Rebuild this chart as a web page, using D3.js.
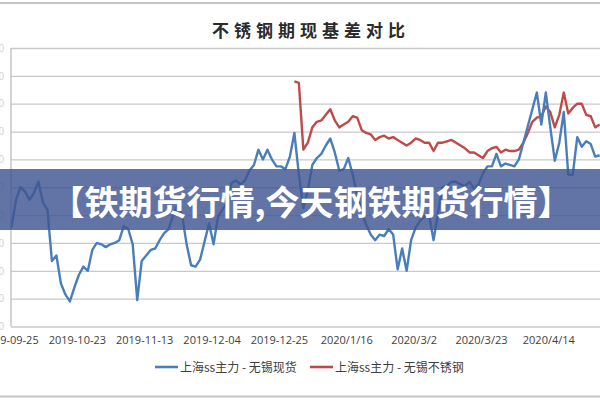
<!DOCTYPE html>
<html>
<head>
<meta charset="utf-8">
<script src="https://cdn.jsdelivr.net/npm/d3@7"></script>
<style>
  body { margin: 0; background: #fff; }
  svg { display: block; font-family: "Noto Sans CJK SC", "Noto Sans", sans-serif; }
</style>
</head>
<body>
<svg id="canvas" width="600" height="400"></svg>
<script>
let title = '不锈钢期现基差对比'
let banner = '【铁期货行情,今天钢铁期货行情】'

// x tick labels, one every 15 trading days
let tickLabels = ['2019-09-25', '2019-10-23', '2019-11-13', '2019-12-04', '2019-12-25',
                  '2020/1/16', '2020/3/2', '2020/3/23', '2020/4/14']
let tickEvery = 15

let seriesNames = ['上海ss主力 - 无锡现货', '上海ss主力 - 无锡不锈钢']

// 上海ss主力 - 无锡现货
let spotBasis = [-290, -90, 0, -30, -90, -40, 40, -110, -160, -530,
                 -490, -690, -770, -820, -720, -630, -570, -600, -450, -400,
                 -410, -430, -410, -400, -380, -280, -300, -410, -810, -530,
                 -490, -450, -440, -380, -330, -300, -200, -130, -200, -410,
                 -560, -570, -520, -390, -260, -410, -210, -160, -110, 30,
                 50, 20, 50, 120, 160, 270, 200, 270, 200, 150,
                 150, 130, 220, 390, 90, -150, -20, 160, 210, 240,
                 300, 350, 250, 120, 130, 210, 90, -60, -180, -270,
                 -340, -380, -340, -350, -300, -340, -590, -440, -600, -380,
                 -290, -240, -210, -200, -380, -180, 0, 10, 40, 40,
                 20, 10, 40, -10, 20, 100, 150, 150, 240, 150,
                 170, 160, 150, 200, 320, 440, 560, 680, 450, 680,
                 430, 190, 320, 540, 90, 90, 360, 290, 330, 310,
                 220, 230]

// 上海ss主力 - 无锡不锈钢, starts later
let steelStart = 63
let steelBasis = [760, 750, 270, 320, 430, 470, 480, 520, 560, 480,
                  430, 450, 470, 510, 500, 410, 390, 380, 340, 360,
                  370, 350, 360, 340, 320, 300, 320, 350, 340, 320,
                  320, 260, 320, 320, 330, 340, 320, 300, 280, 250,
                  250, 230, 210, 260, 280, 290, 250, 270, 260, 260,
                  270, 320, 390, 470, 500, 510, 580, 540, 430, 520,
                  680, 530, 570, 600, 600, 520, 510, 430, 450]

let yTicks = d3.range(-1000, 1001, 200)

let blueColor = '#4a7ebb'
let redColor = '#be4b48'

let canvas = d3.select('#canvas')

let n = spotBasis.length
let xScale = d3.scaleLinear().domain([0, n - 1]).range([11.5, 599.7])
let yScale = d3.scaleLinear().domain([-1000, 1000]).range([326.5, 48])

// frame lines
canvas.append('line').attr('x1', 0).attr('x2', 600).attr('y1', 3).attr('y2', 3)
      .attr('stroke', '#c4c4c4').attr('stroke-width', 2)
canvas.append('line').attr('x1', 0).attr('x2', 600).attr('y1', 396.5).attr('y2', 396.5)
      .attr('stroke', '#c4c4c4').attr('stroke-width', 2)

canvas.append('text')
      .attr('x', 311).attr('y', 37)
      .attr('text-anchor', 'middle')
      .attr('font-size', 17)
      .attr('font-weight', 'bold')
      .attr('letter-spacing', 5)
      .attr('fill', '#2b2b2b')
      .text(title)

// gridlines (value labels sit past the left edge, as in the cropped original)
let grid = canvas.append('g')
                 .attr('transform', 'translate(11,0)')
                 .call(d3.axisLeft(yScale).tickValues(yTicks).tickSize(-600).tickFormat(d3.format(',')))
grid.select('.domain').remove()
grid.selectAll('.tick line').attr('stroke', '#c9c9c9').attr('stroke-width', 1.3)
grid.selectAll('.tick text').attr('fill', '#d4d4d4').attr('font-size', 10).attr('x', -7)

// left axis line
canvas.append('line')
      .attr('x1', 11).attr('x2', 11)
      .attr('y1', yScale(1000)).attr('y2', yScale(-1000))
      .attr('stroke', '#bdbdbd').attr('stroke-width', 1.3)

// x axis labels
let xAxis = canvas.append('g')
                  .attr('transform', 'translate(0,' + (yScale(-1000) + 3) + ')')
                  .call(d3.axisBottom(xScale)
                          .tickValues(tickLabels.map((d, i) => i * tickEvery))
                          .tickSize(0)
                          .tickFormat((d, i) => tickLabels[i]))
xAxis.select('.domain').remove()
xAxis.selectAll('text')
     .attr('font-size', 11)
     .attr('fill', '#404040')
     .attr('font-family', '"Open Sans", "Noto Sans", sans-serif')
     .attr('dx', -2)
     .attr('dy', '1.05em')

let line = d3.line()
             .defined((d) => d != null)
             .x((d, i) => xScale(i))
             .y((d) => yScale(d))

let steelFull = spotBasis.map((d, i) => (i >= steelStart ? steelBasis[i - steelStart] : null))

canvas.append('path')
      .datum(steelFull)
      .attr('d', line)
      .attr('fill', 'none')
      .attr('stroke', redColor)
      .attr('stroke-width', 2.4)
      .attr('stroke-linejoin', 'round')

canvas.append('path')
      .datum(spotBasis)
      .attr('d', line)
      .attr('fill', 'none')
      .attr('stroke', blueColor)
      .attr('stroke-width', 2.4)
      .attr('stroke-linejoin', 'round')

// legend
let legendX = [155, 310]
let legendColors = [blueColor, redColor]
seriesNames.forEach((name, i) => {
    canvas.append('line')
          .attr('x1', legendX[i]).attr('x2', legendX[i] + 23)
          .attr('y1', 367).attr('y2', 367)
          .attr('stroke', legendColors[i]).attr('stroke-width', 2.6)
    canvas.append('text')
          .attr('x', legendX[i] + 25).attr('y', 371.5)
          .attr('font-size', 12)
          .attr('fill', '#404040')
          .text(name)
})

// overlay banner
canvas.append('rect')
      .attr('x', 0).attr('y', 169)
      .attr('width', 600).attr('height', 61)
      .attr('fill', '#3e5591')
      .attr('opacity', 0.82)
canvas.append('text')
      .attr('x', 311).attr('y', 200)
      .attr('text-anchor', 'middle')
      .attr('dominant-baseline', 'central')
      .attr('font-size', 34)
      .attr('font-weight', 'bold')
      .attr('fill', '#fff')
      .text(banner)
</script>
</body>
</html>
